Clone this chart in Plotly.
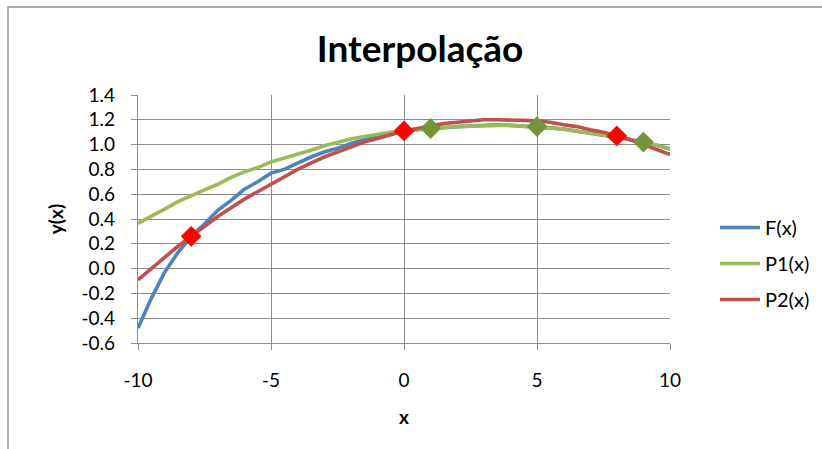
import plotly.graph_objects as go

x_vals = [-10, -9.5, -9, -8.5, -8, -7.5, -7, -6.5, -6, -5.5, -5, -4.5, -4, -3.5, -3, -2.5, -2, -1.5, -1, -0.5,
          0, 0.5, 1, 1.5, 2, 2.5, 3, 3.5, 4, 4.5, 5, 5.5, 6, 6.5, 7, 7.5, 8, 8.5, 9, 9.5, 10]

F_vals = [-0.48, -0.24, -0.03, 0.13, 0.26, 0.36, 0.47, 0.55, 0.64, 0.70, 0.77, 0.80, 0.85, 0.90, 0.94, 0.97,
          1.01, 1.04, 1.07, 1.09, 1.11, 1.12, 1.13, 1.14, 1.145, 1.15, 1.155, 1.16, 1.155, 1.15, 1.145, 1.135,
          1.125, 1.11, 1.095, 1.08, 1.06, 1.04, 1.02, 0.995, 0.965]

P1_vals = [0.365, 0.42, 0.48, 0.54, 0.59, 0.635, 0.68, 0.735, 0.78, 0.815, 0.86, 0.89, 0.925, 0.955, 0.99, 1.02,
           1.045, 1.065, 1.085, 1.10, 1.115, 1.125, 1.13, 1.14, 1.145, 1.15, 1.155, 1.155, 1.155, 1.15, 1.145,
           1.135, 1.125, 1.11, 1.095, 1.08, 1.06, 1.04, 1.02, 0.995, 0.965]

P2_vals = [-0.09, 0.0, 0.09, 0.18, 0.26, 0.34, 0.42, 0.49, 0.56, 0.62, 0.68, 0.74, 0.80, 0.85, 0.90, 0.94,
           0.98, 1.02, 1.05, 1.08, 1.11, 1.13, 1.15, 1.17, 1.18, 1.19, 1.20, 1.20, 1.20, 1.195, 1.19, 1.18,
           1.16, 1.145, 1.12, 1.10, 1.07, 1.04, 1.0, 0.96, 0.92]

P1_nodes_x = [1, 5, 9]
P1_nodes_y = [1.13, 1.145, 1.02]
P2_nodes_x = [-8, 0, 8]
P2_nodes_y = [0.26, 1.11, 1.07]

x_ticks = [-10, -5, 0, 5, 10]
y_ticks = [-0.6, -0.4, -0.2, 0.0, 0.2, 0.4, 0.6, 0.8, 1.0, 1.2, 1.4]

FONT = "Lato"
GRID = "#8c8c8c"

fig = go.Figure()
fig.add_trace(go.Scatter(x=x_vals, y=F_vals, mode="lines", name="F(x)", legendgroup="a",
                         line=dict(color="#4F81BD", width=3.6)))
fig.add_trace(go.Scatter(x=x_vals, y=P1_vals, mode="lines", name="P1(x)", legendgroup="b",
                         line=dict(color="#9BBB59", width=3.6)))
fig.add_trace(go.Scatter(x=x_vals, y=P2_vals, mode="lines", name="P2(x)", legendgroup="c",
                         line=dict(color="#C0504D", width=3.6)))
fig.add_trace(go.Scatter(x=P2_nodes_x, y=P2_nodes_y, mode="markers", showlegend=False,
                         marker=dict(symbol="diamond", size=16, color="#FF0000")))
fig.add_trace(go.Scatter(x=P1_nodes_x, y=P1_nodes_y, mode="markers", showlegend=False,
                         marker=dict(symbol="diamond", size=16, color="#77933C")))

L, R, T, B = 138, 152, 95, 106
W, H = 822, 449
pw, ph = W - L - R, H - T - B

def px_x(p):
    return (p - L) / pw

def px_y(p):
    return (H - B - p) / ph

fig.update_layout(
    width=W, height=H,
    margin=dict(l=L, r=R, t=T, b=B, autoexpand=False),
    paper_bgcolor="white", plot_bgcolor="white",
    font=dict(family=FONT, size=19, color="#000000"),
    title=dict(text="<b>Interpolação</b>", x=0.511, xanchor="center", y=1 - 49 / H, yanchor="middle",
               yref="container", font=dict(family=FONT, size=37, color="#000000")),
    showlegend=True,
    legend=dict(x=px_x(715), xanchor="left", y=px_y(208), yanchor="top", font=dict(family=FONT, size=20),
                tracegroupgap=7, bgcolor="rgba(0,0,0,0)", itemwidth=40),
    shapes=[dict(type="rect", xref="paper", yref="paper", x0=px_x(8), x1=px_x(840), y0=px_y(470), y1=px_y(7),
                 line=dict(color="#8c8c8c", width=1.3), fillcolor="rgba(0,0,0,0)", layer="below")],
)
fig.update_xaxes(range=[-10, 10], tickvals=x_ticks, ticktext=[str(v) for v in x_ticks],
                 showgrid=True, gridcolor=GRID, gridwidth=1.3, zeroline=False,
                 showline=True, linecolor=GRID, linewidth=1.3, ticks="outside", ticklen=6, tickcolor=GRID,
                 ticklabelstandoff=14,
                 title=dict(text="<b>x</b>", font=dict(family=FONT, size=19), standoff=20))
fig.update_yaxes(range=[-0.6, 1.4], tickvals=y_ticks, ticktext=[f"{v:.1f}" for v in y_ticks],
                 showgrid=True, gridcolor=GRID, gridwidth=1.3, zeroline=False,
                 showline=True, linecolor=GRID, linewidth=1.3, ticks="outside", ticklen=6, tickcolor=GRID,
                 ticklabelstandoff=12,
                 title=dict(text="<b>y(x)</b>", font=dict(family=FONT, size=19), standoff=12))

fig.write_html("out.html")
